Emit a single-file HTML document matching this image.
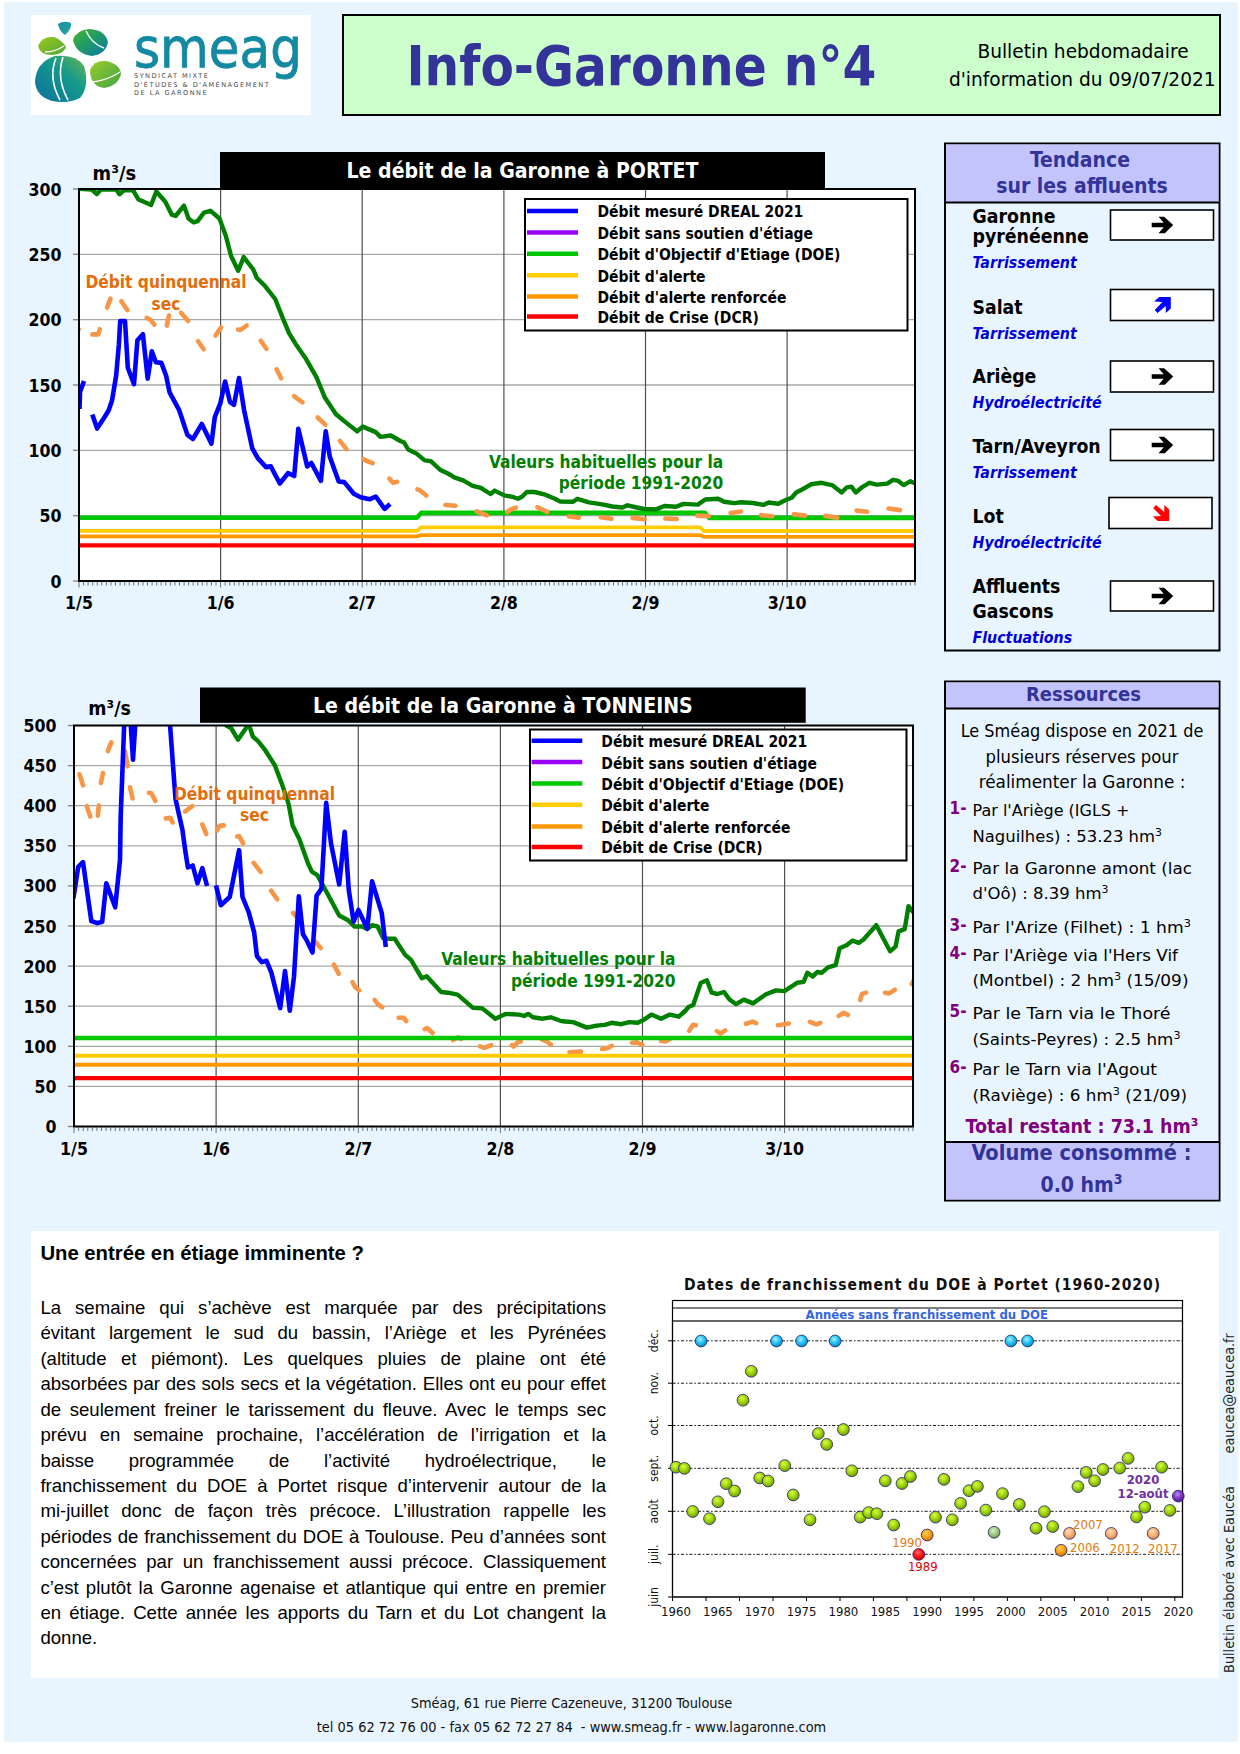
<!DOCTYPE html>
<html lang="fr"><head><meta charset="utf-8"><title>Info-Garonne n°4</title>
<style>
html,body{margin:0;padding:0;background:#fff;}
body{width:1240px;height:1754px;position:relative;overflow:hidden;}
#bg{position:absolute;left:4px;top:2px;width:1234px;height:1740px;background:#E9F5FE;}
#art{position:absolute;left:31px;top:1231px;width:1188px;height:447px;background:#fff;}
svg{position:absolute;left:0;top:0;}
.al,.at{position:absolute;left:40.4px;width:565.6px;height:25.41px;line-height:25.41px;font-family:'Liberation Sans',Arial,sans-serif;color:#000;white-space:nowrap;}
.al{font-size:18.6px;text-align:justify;text-align-last:justify;white-space:normal;}
.al.last{text-align-last:left;}
.at{font-size:20.3px;font-weight:bold;}
</style></head><body>
<div id="bg"></div>
<div id="art"></div>
<svg width="1240" height="1754" viewBox="0 0 1240 1754">
<rect x="31" y="15" width="280" height="100" fill="#fff"/><defs>
<linearGradient id="gA" x1="0" y1="0" x2="1" y2="1"><stop offset="0" stop-color="#9DC81A"/><stop offset="1" stop-color="#4FA83A"/></linearGradient>
<linearGradient id="gB" x1="0.1" y1="0.1" x2="0.9" y2="0.9"><stop offset="0" stop-color="#3DAE3A"/><stop offset="0.5" stop-color="#1E9A6A"/><stop offset="1" stop-color="#0E7CA4"/></linearGradient>
<linearGradient id="gC" x1="0" y1="1" x2="1" y2="0"><stop offset="0" stop-color="#0B6FA0"/><stop offset="0.6" stop-color="#139A8C"/><stop offset="1" stop-color="#6DB54A"/></linearGradient>
<linearGradient id="gD" x1="0" y1="0" x2="1" y2="1"><stop offset="0" stop-color="#9CCB2A"/><stop offset="1" stop-color="#3FA544"/></linearGradient>
<linearGradient id="gE" x1="0" y1="0" x2="1" y2="1"><stop offset="0" stop-color="#1A8FA8"/><stop offset="1" stop-color="#2AA59A"/></linearGradient>
</defs><path d="M58,24 Q64,20 71,23 Q72,29 65,35 Q59,31 58,24Z" fill="url(#gE)"/><path d="M38,46 Q42,36 54,37 Q62,40 66,47 Q64,54 52,55 Q40,55 38,46Z" fill="url(#gA)"/><path d="M73,40 Q76,30 90,29 Q105,30 108,42 Q106,54 92,56 Q76,54 73,40Z" fill="url(#gB)"/><path d="M35,82 Q36,62 55,56 Q76,54 84,66 Q90,86 80,98 Q68,104 52,101 Q36,96 35,82Z" fill="url(#gC)"/><path d="M90,70 Q94,60 106,61 Q120,64 121,74 Q118,86 104,88 Q90,86 90,70Z" fill="url(#gD)"/><path d="M56,58 Q48,78 60,100 M63,57 Q56,78 68,100" stroke="#fff" stroke-width="1.6" fill="none"/><path d="M86,31 Q92,44 104,48 M93,82 Q108,80 120,72 M45,52 Q55,52 64,46" stroke="#fff" stroke-width="1.4" fill="none"/><text x="134" y="67" font-family="'DejaVu Sans','Liberation Sans',sans-serif" font-size="55" font-weight="normal" fill="#1489A2" stroke="#1489A2" stroke-width="0.8" textLength="168" lengthAdjust="spacingAndGlyphs">smeag</text><text x="134" y="78.0" font-family="'DejaVu Sans','Liberation Sans',sans-serif" font-size="6.6" font-weight="normal" fill="#4A4A4A" text-anchor="start" letter-spacing="1.45" textLength="75.4" lengthAdjust="spacingAndGlyphs">SYNDICAT MIXTE</text>
<text x="134" y="86.6" font-family="'DejaVu Sans','Liberation Sans',sans-serif" font-size="6.6" font-weight="normal" fill="#4A4A4A" text-anchor="start" letter-spacing="1.45" textLength="136.2" lengthAdjust="spacingAndGlyphs">D&#39;ÉTUDES &amp; D&#39;AMÉNAGEMENT</text>
<text x="134" y="95.2" font-family="'DejaVu Sans','Liberation Sans',sans-serif" font-size="6.6" font-weight="normal" fill="#4A4A4A" text-anchor="start" letter-spacing="1.45" textLength="74.0" lengthAdjust="spacingAndGlyphs">DE LA GARONNE</text>
<rect x="343" y="15" width="877" height="100" fill="#CCFFCC" stroke="#000" stroke-width="2"/><text x="406.5" y="84.8" font-family="'DejaVu Sans Condensed','DejaVu Sans',sans-serif" font-size="56" font-weight="bold" fill="#333399" text-anchor="start" textLength="470" lengthAdjust="spacingAndGlyphs">Info-Garonne n°4</text>
<text x="1083" y="57.5" font-family="'DejaVu Sans','Liberation Sans',sans-serif" font-size="18.6" font-weight="normal" fill="#000" text-anchor="middle"  textLength="211.2" lengthAdjust="spacingAndGlyphs">Bulletin hebdomadaire</text>
<text x="1082.3" y="86" font-family="'DejaVu Sans','Liberation Sans',sans-serif" font-size="18.6" font-weight="normal" fill="#000" text-anchor="middle"  textLength="266.8" lengthAdjust="spacingAndGlyphs">d&#39;information du 09/07/2021</text>

<clipPath id="clip1"><rect x="79" y="189" width="836" height="392"/></clipPath>
<rect x="79" y="189" width="836" height="392" fill="#fff"/>
<line x1="79" x2="915" y1="515.7" y2="515.7" stroke="#A8A8A8" stroke-width="1.3"/>
<line x1="79" x2="915" y1="450.3" y2="450.3" stroke="#A8A8A8" stroke-width="1.3"/>
<line x1="79" x2="915" y1="385.0" y2="385.0" stroke="#A8A8A8" stroke-width="1.3"/>
<line x1="79" x2="915" y1="319.7" y2="319.7" stroke="#A8A8A8" stroke-width="1.3"/>
<line x1="79" x2="915" y1="254.3" y2="254.3" stroke="#A8A8A8" stroke-width="1.3"/>
<line x1="73" x2="79" y1="581.0" y2="581.0" stroke="#808080" stroke-width="1.3"/>
<text x="61.5" y="587.5" font-family="'DejaVu Sans Condensed','DejaVu Sans',sans-serif" font-size="17.6" font-weight="bold" fill="#000" text-anchor="end"  textLength="11.0" lengthAdjust="spacingAndGlyphs">0</text>

<line x1="73" x2="79" y1="515.7" y2="515.7" stroke="#808080" stroke-width="1.3"/>
<text x="61.5" y="522.2" font-family="'DejaVu Sans Condensed','DejaVu Sans',sans-serif" font-size="17.6" font-weight="bold" fill="#000" text-anchor="end"  textLength="22.0" lengthAdjust="spacingAndGlyphs">50</text>

<line x1="73" x2="79" y1="450.3" y2="450.3" stroke="#808080" stroke-width="1.3"/>
<text x="61.5" y="456.8" font-family="'DejaVu Sans Condensed','DejaVu Sans',sans-serif" font-size="17.6" font-weight="bold" fill="#000" text-anchor="end"  textLength="33.0" lengthAdjust="spacingAndGlyphs">100</text>

<line x1="73" x2="79" y1="385.0" y2="385.0" stroke="#808080" stroke-width="1.3"/>
<text x="61.5" y="391.5" font-family="'DejaVu Sans Condensed','DejaVu Sans',sans-serif" font-size="17.6" font-weight="bold" fill="#000" text-anchor="end"  textLength="33.0" lengthAdjust="spacingAndGlyphs">150</text>

<line x1="73" x2="79" y1="319.7" y2="319.7" stroke="#808080" stroke-width="1.3"/>
<text x="61.5" y="326.2" font-family="'DejaVu Sans Condensed','DejaVu Sans',sans-serif" font-size="17.6" font-weight="bold" fill="#000" text-anchor="end"  textLength="33.0" lengthAdjust="spacingAndGlyphs">200</text>

<line x1="73" x2="79" y1="254.3" y2="254.3" stroke="#808080" stroke-width="1.3"/>
<text x="61.5" y="260.8" font-family="'DejaVu Sans Condensed','DejaVu Sans',sans-serif" font-size="17.6" font-weight="bold" fill="#000" text-anchor="end"  textLength="33.0" lengthAdjust="spacingAndGlyphs">250</text>

<line x1="73" x2="79" y1="189.0" y2="189.0" stroke="#808080" stroke-width="1.3"/>
<text x="61.5" y="195.5" font-family="'DejaVu Sans Condensed','DejaVu Sans',sans-serif" font-size="17.6" font-weight="bold" fill="#000" text-anchor="end"  textLength="33.0" lengthAdjust="spacingAndGlyphs">300</text>

<text x="79.0" y="609.3" font-family="'DejaVu Sans Condensed','DejaVu Sans',sans-serif" font-size="17.6" font-weight="bold" fill="#000" text-anchor="middle"  textLength="27.8" lengthAdjust="spacingAndGlyphs">1/5</text>

<line x1="220.6" x2="220.6" y1="189" y2="581" stroke="#505050" stroke-width="1.2"/>
<text x="220.6" y="609.3" font-family="'DejaVu Sans Condensed','DejaVu Sans',sans-serif" font-size="17.6" font-weight="bold" fill="#000" text-anchor="middle"  textLength="27.8" lengthAdjust="spacingAndGlyphs">1/6</text>

<line x1="362.2" x2="362.2" y1="189" y2="581" stroke="#505050" stroke-width="1.2"/>
<text x="362.2" y="609.3" font-family="'DejaVu Sans Condensed','DejaVu Sans',sans-serif" font-size="17.6" font-weight="bold" fill="#000" text-anchor="middle"  textLength="27.8" lengthAdjust="spacingAndGlyphs">2/7</text>

<line x1="503.9" x2="503.9" y1="189" y2="581" stroke="#505050" stroke-width="1.2"/>
<text x="503.9" y="609.3" font-family="'DejaVu Sans Condensed','DejaVu Sans',sans-serif" font-size="17.6" font-weight="bold" fill="#000" text-anchor="middle"  textLength="27.8" lengthAdjust="spacingAndGlyphs">2/8</text>

<line x1="645.5" x2="645.5" y1="189" y2="581" stroke="#505050" stroke-width="1.2"/>
<text x="645.5" y="609.3" font-family="'DejaVu Sans Condensed','DejaVu Sans',sans-serif" font-size="17.6" font-weight="bold" fill="#000" text-anchor="middle"  textLength="27.8" lengthAdjust="spacingAndGlyphs">2/9</text>

<line x1="787.1" x2="787.1" y1="189" y2="581" stroke="#505050" stroke-width="1.2"/>
<text x="787.1" y="609.3" font-family="'DejaVu Sans Condensed','DejaVu Sans',sans-serif" font-size="17.6" font-weight="bold" fill="#000" text-anchor="middle"  textLength="38.8" lengthAdjust="spacingAndGlyphs">3/10</text>

<path d="M79.0 582v5.5M83.6 582v3.5M88.1 582v3.5M92.7 582v3.5M97.3 582v3.5M101.8 582v3.5M106.4 582v3.5M111.0 582v3.5M115.5 582v3.5M120.1 582v3.5M124.7 582v3.5M129.3 582v3.5M133.8 582v3.5M138.4 582v3.5M143.0 582v3.5M147.5 582v3.5M152.1 582v3.5M156.7 582v3.5M161.2 582v3.5M165.8 582v3.5M170.4 582v3.5M174.9 582v3.5M179.5 582v3.5M184.1 582v3.5M188.6 582v3.5M193.2 582v3.5M197.8 582v3.5M202.3 582v3.5M206.9 582v3.5M211.5 582v3.5M216.0 582v3.5M220.6 582v5.5M225.2 582v3.5M229.8 582v3.5M234.3 582v3.5M238.9 582v3.5M243.5 582v3.5M248.0 582v3.5M252.6 582v3.5M257.2 582v3.5M261.7 582v3.5M266.3 582v3.5M270.9 582v3.5M275.4 582v3.5M280.0 582v3.5M284.6 582v3.5M289.1 582v3.5M293.7 582v3.5M298.3 582v3.5M302.8 582v3.5M307.4 582v3.5M312.0 582v3.5M316.6 582v3.5M321.1 582v3.5M325.7 582v3.5M330.3 582v3.5M334.8 582v3.5M339.4 582v3.5M344.0 582v3.5M348.5 582v3.5M353.1 582v3.5M357.7 582v3.5M362.2 582v5.5M366.8 582v3.5M371.4 582v3.5M375.9 582v3.5M380.5 582v3.5M385.1 582v3.5M389.6 582v3.5M394.2 582v3.5M398.8 582v3.5M403.3 582v3.5M407.9 582v3.5M412.5 582v3.5M417.1 582v3.5M421.6 582v3.5M426.2 582v3.5M430.8 582v3.5M435.3 582v3.5M439.9 582v3.5M444.5 582v3.5M449.0 582v3.5M453.6 582v3.5M458.2 582v3.5M462.7 582v3.5M467.3 582v3.5M471.9 582v3.5M476.4 582v3.5M481.0 582v3.5M485.6 582v3.5M490.1 582v3.5M494.7 582v3.5M499.3 582v3.5M503.9 582v5.5M508.4 582v3.5M513.0 582v3.5M517.6 582v3.5M522.1 582v3.5M526.7 582v3.5M531.3 582v3.5M535.8 582v3.5M540.4 582v3.5M545.0 582v3.5M549.5 582v3.5M554.1 582v3.5M558.7 582v3.5M563.2 582v3.5M567.8 582v3.5M572.4 582v3.5M576.9 582v3.5M581.5 582v3.5M586.1 582v3.5M590.7 582v3.5M595.2 582v3.5M599.8 582v3.5M604.4 582v3.5M608.9 582v3.5M613.5 582v3.5M618.1 582v3.5M622.6 582v3.5M627.2 582v3.5M631.8 582v3.5M636.3 582v3.5M640.9 582v3.5M645.5 582v5.5M650.0 582v3.5M654.6 582v3.5M659.2 582v3.5M663.7 582v3.5M668.3 582v3.5M672.9 582v3.5M677.4 582v3.5M682.0 582v3.5M686.6 582v3.5M691.2 582v3.5M695.7 582v3.5M700.3 582v3.5M704.9 582v3.5M709.4 582v3.5M714.0 582v3.5M718.6 582v3.5M723.1 582v3.5M727.7 582v3.5M732.3 582v3.5M736.8 582v3.5M741.4 582v3.5M746.0 582v3.5M750.5 582v3.5M755.1 582v3.5M759.7 582v3.5M764.2 582v3.5M768.8 582v3.5M773.4 582v3.5M778.0 582v3.5M782.5 582v3.5M787.1 582v5.5M791.7 582v3.5M796.2 582v3.5M800.8 582v3.5M805.4 582v3.5M809.9 582v3.5M814.5 582v3.5M819.1 582v3.5M823.6 582v3.5M828.2 582v3.5M832.8 582v3.5M837.3 582v3.5M841.9 582v3.5M846.5 582v3.5M851.0 582v3.5M855.6 582v3.5M860.2 582v3.5M864.7 582v3.5M869.3 582v3.5M873.9 582v3.5M878.5 582v3.5M883.0 582v3.5M887.6 582v3.5M892.2 582v3.5M896.7 582v3.5M901.3 582v3.5M905.9 582v3.5M910.4 582v3.5M915.0 582v3.5" stroke="#707070" stroke-width="1"/>
<g clip-path="url(#clip1)" fill="none" stroke-linejoin="round">
<polyline points="79.0,517.8 416.8,517.8 421.3,512.9 705.0,512.9 709.0,517.9 915.0,517.9" stroke="#00C800" stroke-width="4.6"/>
<polyline points="79.0,530.9 416.8,530.9 421.3,527.3 700.0,527.3 704.0,531.0 915.0,531.0" stroke="#FFCC00" stroke-width="3.8"/>
<polyline points="79.0,536.4 416.8,536.4 421.3,535.1 700.0,535.1 704.0,536.8 915.0,536.8" stroke="#FF9900" stroke-width="3.8"/>
<polyline points="79.0,545.4 915.0,545.4" stroke="#FF0000" stroke-width="4.2"/>
<g stroke="#F79646" stroke-width="4.6" stroke-linecap="round"><polyline points="77.8,328.7 78.7,329.3"/><polyline points="92.4,334.4 98.2,334.4 99.8,329.2"/><polyline points="107.0,307.6 110.5,298.7"/><polyline points="121.3,301.3 127.4,310.1"/><polyline points="146.7,317.9 150.5,319.8 154.3,324.7"/><polyline points="166.8,325.6 169.0,315.5"/><polyline points="181.0,312.8 188.2,321.0"/><polyline points="198.1,341.2 203.7,349.2"/><polyline points="215.6,335.5 221.1,327.4"/><polyline points="238.1,329.6 240.5,330.0 246.7,325.5"/><polyline points="260.8,340.8 266.4,348.8"/><polyline points="276.6,369.3 281.1,378.3"/><polyline points="294.1,396.1 298.1,399.2 302.6,402.3"/><polyline points="317.6,417.5 325.3,424.6"/><polyline points="339.9,440.9 346.5,449.1"/><polyline points="363.6,459.2 366.8,461.0 372.7,463.2"/><polyline points="389.3,478.6 392.9,482.7 397.2,481.8"/><polyline points="417.4,489.4 420.5,490.7 426.3,495.5"/><polyline points="445.4,505.0 455.5,505.8"/><polyline points="476.5,511.4 486.9,515.4"/><polyline points="507.3,512.1 510.0,509.9 515.9,507.7"/><polyline points="537.4,507.2 547.2,511.9"/><polyline points="568.8,516.5 578.9,517.6"/><polyline points="600.7,517.3 611.5,518.8"/><polyline points="632.6,517.9 644.9,519.2"/><polyline points="665.3,518.5 676.8,519.0"/><polyline points="697.2,515.6 708.8,516.1"/><polyline points="730.6,513.0 741.0,511.5"/><polyline points="761.1,515.1 772.3,516.2"/><polyline points="793.9,514.4 805.2,515.6"/><polyline points="825.2,515.9 837.2,517.6"/><polyline points="856.6,510.6 867.1,511.7"/><polyline points="888.6,508.5 899.9,510.1"/></g>
<polyline points="78.9,188.9 91.8,189.5 96.9,194.0 100.8,189.5 116.3,189.5 119.5,194.3 124.0,190.2 133.0,190.2 138.2,199.2 151.1,205.0 156.3,191.5 165.3,201.8 171.8,214.7 175.6,216.0 184.0,205.6 188.5,218.5 193.7,222.4 197.6,221.1 204.0,212.7 210.5,210.8 219.5,218.5 226.0,236.6 231.1,256.0 238.2,270.8 243.7,257.1 253.3,269.5 256.7,277.7 264.3,285.2 275.2,299.0 282.8,318.1 289.0,333.2 295.8,344.2 305.4,357.9 316.4,377.1 325.0,397.8 336.0,414.3 344.2,421.1 357.2,431.4 362.7,426.6 375.7,432.1 380.5,436.9 390.8,435.5 400.4,441.0 404.1,442.6 408.2,449.5 416.5,453.6 424.7,460.4 430.8,461.1 440.4,470.0 448.0,473.5 454.8,477.6 463.1,480.3 472.7,485.8 480.9,487.9 490.5,494.0 494.6,490.6 504.2,495.4 512.4,496.8 517.9,498.8 522.0,496.8 526.8,492.0 534.4,492.0 545.3,494.7 554.9,498.8 560.4,501.6 573.1,501.7 577.4,498.8 589.0,502.4 603.5,504.6 612.3,506.5 622.4,507.5 627.5,505.3 636.9,507.5 644.2,509.0 655.8,509.4 664.5,506.0 676.1,506.8 683.4,503.9 697.9,504.6 705.2,499.5 718.2,498.8 724.0,501.7 734.2,503.1 741.0,502.2 752.9,503.0 763.3,504.9 768.6,502.5 778.3,503.7 785.7,500.0 791.7,497.7 796.2,492.5 802.1,489.5 811.1,484.3 821.5,482.8 832.0,485.1 841.7,492.5 846.9,487.3 851.4,486.6 855.8,492.5 861.8,487.3 869.3,482.8 876.7,484.6 887.2,483.6 893.1,479.8 897.6,480.6 903.6,485.1 910.3,481.3 915.5,483.6" stroke="#008000" stroke-width="4.4"/>
<polyline points="79.5,409.0 80.0,392.0 84.0,381.0" stroke="#0000FF" stroke-width="4.6"/>
<polyline points="92.3,414.5 97.1,428.6 104.8,416.8 108.7,410.3 112.0,400.6 116.1,376.0 118.9,344.4 120.2,321.1 125.0,321.1 127.8,367.7 134.0,384.2 137.4,340.3 142.9,334.2 147.7,378.7 151.8,351.3 155.9,362.3 161.4,362.9 166.2,376.0 169.6,392.4 179.2,410.2 187.4,434.9 192.9,439.0 201.8,424.0 211.4,443.8 214.8,417.1 220.3,403.4 225.1,381.5 230.0,402.0 234.0,404.8 239.0,378.0 244.1,410.2 252.3,448.5 257.8,458.1 266.0,467.1 270.8,466.4 279.8,483.5 288.0,473.2 294.2,476.0 298.3,428.7 307.2,466.4 311.3,462.9 320.9,480.8 325.7,431.4 329.8,456.8 338.7,481.5 344.2,482.1 353.8,493.8 360.6,497.2 369.6,499.3 375.7,496.5 384.6,508.9 390.1,504.1" stroke="#0000FF" stroke-width="4.6"/>
</g>
<rect x="79" y="189" width="836" height="392" fill="none" stroke="#000" stroke-width="2"/>
<rect x="220" y="152" width="605" height="36" fill="#000"/>
<text x="522.5" y="177.6" font-family="'DejaVu Sans Condensed','DejaVu Sans',sans-serif" font-size="21.1" font-weight="bold" fill="#fff" text-anchor="middle"  textLength="352.0" lengthAdjust="spacingAndGlyphs">Le débit de la Garonne à PORTET</text>

<text x="92.6" y="179.6" font-family="'DejaVu Sans Condensed','DejaVu Sans',sans-serif" font-size="20" font-weight="bold" fill="#000" text-anchor="start" textLength="43.5" lengthAdjust="spacingAndGlyphs">m³/s</text>

<rect x="525" y="199" width="382.5" height="131.5" fill="#fff" stroke="#000" stroke-width="2"/>
<line x1="527" x2="578" y1="211" y2="211" stroke="#0000FF" stroke-width="4.5"/>
<text x="597.4" y="217.4" font-family="'DejaVu Sans Condensed','DejaVu Sans',sans-serif" font-size="15.5" font-weight="bold" fill="#000" text-anchor="start"  textLength="205.9" lengthAdjust="spacingAndGlyphs">Débit mesuré DREAL 2021</text>

<line x1="527" x2="578" y1="232.4" y2="232.4" stroke="#9900FF" stroke-width="4.5"/>
<text x="597.4" y="238.8" font-family="'DejaVu Sans Condensed','DejaVu Sans',sans-serif" font-size="15.5" font-weight="bold" fill="#000" text-anchor="start"  textLength="215.6" lengthAdjust="spacingAndGlyphs">Débit sans soutien d&#39;étiage</text>

<line x1="527" x2="578" y1="253.7" y2="253.7" stroke="#00C800" stroke-width="4.5"/>
<text x="597.4" y="260.1" font-family="'DejaVu Sans Condensed','DejaVu Sans',sans-serif" font-size="15.5" font-weight="bold" fill="#000" text-anchor="start"  textLength="242.9" lengthAdjust="spacingAndGlyphs">Débit d&#39;Objectif d&#39;Etiage (DOE)</text>

<line x1="527" x2="578" y1="275.2" y2="275.2" stroke="#FFCC00" stroke-width="4.5"/>
<text x="597.4" y="281.6" font-family="'DejaVu Sans Condensed','DejaVu Sans',sans-serif" font-size="15.5" font-weight="bold" fill="#000" text-anchor="start"  textLength="108.2" lengthAdjust="spacingAndGlyphs">Débit d&#39;alerte</text>

<line x1="527" x2="578" y1="296.5" y2="296.5" stroke="#FF9900" stroke-width="4.5"/>
<text x="597.4" y="302.9" font-family="'DejaVu Sans Condensed','DejaVu Sans',sans-serif" font-size="15.5" font-weight="bold" fill="#000" text-anchor="start"  textLength="189.1" lengthAdjust="spacingAndGlyphs">Débit d&#39;alerte renforcée</text>

<line x1="527" x2="578" y1="316.6" y2="316.6" stroke="#FF0000" stroke-width="4.5"/>
<text x="597.4" y="323.0" font-family="'DejaVu Sans Condensed','DejaVu Sans',sans-serif" font-size="15.5" font-weight="bold" fill="#000" text-anchor="start"  textLength="161.4" lengthAdjust="spacingAndGlyphs">Débit de Crise (DCR)</text>

<text x="166" y="287.6" font-family="'DejaVu Sans Condensed','DejaVu Sans',sans-serif" font-size="17.2" font-weight="bold" fill="#E46C0A" text-anchor="middle"  textLength="161.2" lengthAdjust="spacingAndGlyphs">Débit quinquennal</text>

<text x="166" y="309.5" font-family="'DejaVu Sans Condensed','DejaVu Sans',sans-serif" font-size="17.2" font-weight="bold" fill="#E46C0A" text-anchor="middle"  textLength="28.9" lengthAdjust="spacingAndGlyphs">sec</text>

<text x="723.3" y="467.6" font-family="'DejaVu Sans Condensed','DejaVu Sans',sans-serif" font-size="17.2" font-weight="bold" fill="#008000" text-anchor="end"  textLength="234.3" lengthAdjust="spacingAndGlyphs">Valeurs habituelles pour la</text>

<text x="723.3" y="489.4" font-family="'DejaVu Sans Condensed','DejaVu Sans',sans-serif" font-size="17.2" font-weight="bold" fill="#008000" text-anchor="end"  textLength="164.5" lengthAdjust="spacingAndGlyphs">période 1991-2020</text>

<clipPath id="clip2"><rect x="74" y="725.5" width="839" height="401.0"/></clipPath>
<rect x="74" y="725.5" width="839" height="401.0" fill="#fff"/>
<line x1="74" x2="913" y1="1086.4" y2="1086.4" stroke="#A8A8A8" stroke-width="1.3"/>
<line x1="74" x2="913" y1="1046.3" y2="1046.3" stroke="#A8A8A8" stroke-width="1.3"/>
<line x1="74" x2="913" y1="1006.2" y2="1006.2" stroke="#A8A8A8" stroke-width="1.3"/>
<line x1="74" x2="913" y1="966.1" y2="966.1" stroke="#A8A8A8" stroke-width="1.3"/>
<line x1="74" x2="913" y1="926.0" y2="926.0" stroke="#A8A8A8" stroke-width="1.3"/>
<line x1="74" x2="913" y1="885.9" y2="885.9" stroke="#A8A8A8" stroke-width="1.3"/>
<line x1="74" x2="913" y1="845.8" y2="845.8" stroke="#A8A8A8" stroke-width="1.3"/>
<line x1="74" x2="913" y1="805.7" y2="805.7" stroke="#A8A8A8" stroke-width="1.3"/>
<line x1="74" x2="913" y1="765.6" y2="765.6" stroke="#A8A8A8" stroke-width="1.3"/>
<line x1="68" x2="74" y1="1126.5" y2="1126.5" stroke="#808080" stroke-width="1.3"/>
<text x="56.5" y="1133.0" font-family="'DejaVu Sans Condensed','DejaVu Sans',sans-serif" font-size="17.6" font-weight="bold" fill="#000" text-anchor="end"  textLength="11.0" lengthAdjust="spacingAndGlyphs">0</text>

<line x1="68" x2="74" y1="1086.4" y2="1086.4" stroke="#808080" stroke-width="1.3"/>
<text x="56.5" y="1092.9" font-family="'DejaVu Sans Condensed','DejaVu Sans',sans-serif" font-size="17.6" font-weight="bold" fill="#000" text-anchor="end"  textLength="22.0" lengthAdjust="spacingAndGlyphs">50</text>

<line x1="68" x2="74" y1="1046.3" y2="1046.3" stroke="#808080" stroke-width="1.3"/>
<text x="56.5" y="1052.8" font-family="'DejaVu Sans Condensed','DejaVu Sans',sans-serif" font-size="17.6" font-weight="bold" fill="#000" text-anchor="end"  textLength="33.0" lengthAdjust="spacingAndGlyphs">100</text>

<line x1="68" x2="74" y1="1006.2" y2="1006.2" stroke="#808080" stroke-width="1.3"/>
<text x="56.5" y="1012.7" font-family="'DejaVu Sans Condensed','DejaVu Sans',sans-serif" font-size="17.6" font-weight="bold" fill="#000" text-anchor="end"  textLength="33.0" lengthAdjust="spacingAndGlyphs">150</text>

<line x1="68" x2="74" y1="966.1" y2="966.1" stroke="#808080" stroke-width="1.3"/>
<text x="56.5" y="972.6" font-family="'DejaVu Sans Condensed','DejaVu Sans',sans-serif" font-size="17.6" font-weight="bold" fill="#000" text-anchor="end"  textLength="33.0" lengthAdjust="spacingAndGlyphs">200</text>

<line x1="68" x2="74" y1="926.0" y2="926.0" stroke="#808080" stroke-width="1.3"/>
<text x="56.5" y="932.5" font-family="'DejaVu Sans Condensed','DejaVu Sans',sans-serif" font-size="17.6" font-weight="bold" fill="#000" text-anchor="end"  textLength="33.0" lengthAdjust="spacingAndGlyphs">250</text>

<line x1="68" x2="74" y1="885.9" y2="885.9" stroke="#808080" stroke-width="1.3"/>
<text x="56.5" y="892.4" font-family="'DejaVu Sans Condensed','DejaVu Sans',sans-serif" font-size="17.6" font-weight="bold" fill="#000" text-anchor="end"  textLength="33.0" lengthAdjust="spacingAndGlyphs">300</text>

<line x1="68" x2="74" y1="845.8" y2="845.8" stroke="#808080" stroke-width="1.3"/>
<text x="56.5" y="852.3" font-family="'DejaVu Sans Condensed','DejaVu Sans',sans-serif" font-size="17.6" font-weight="bold" fill="#000" text-anchor="end"  textLength="33.0" lengthAdjust="spacingAndGlyphs">350</text>

<line x1="68" x2="74" y1="805.7" y2="805.7" stroke="#808080" stroke-width="1.3"/>
<text x="56.5" y="812.2" font-family="'DejaVu Sans Condensed','DejaVu Sans',sans-serif" font-size="17.6" font-weight="bold" fill="#000" text-anchor="end"  textLength="33.0" lengthAdjust="spacingAndGlyphs">400</text>

<line x1="68" x2="74" y1="765.6" y2="765.6" stroke="#808080" stroke-width="1.3"/>
<text x="56.5" y="772.1" font-family="'DejaVu Sans Condensed','DejaVu Sans',sans-serif" font-size="17.6" font-weight="bold" fill="#000" text-anchor="end"  textLength="33.0" lengthAdjust="spacingAndGlyphs">450</text>

<line x1="68" x2="74" y1="725.5" y2="725.5" stroke="#808080" stroke-width="1.3"/>
<text x="56.5" y="732.0" font-family="'DejaVu Sans Condensed','DejaVu Sans',sans-serif" font-size="17.6" font-weight="bold" fill="#000" text-anchor="end"  textLength="33.0" lengthAdjust="spacingAndGlyphs">500</text>

<text x="74.0" y="1154.8" font-family="'DejaVu Sans Condensed','DejaVu Sans',sans-serif" font-size="17.6" font-weight="bold" fill="#000" text-anchor="middle"  textLength="27.8" lengthAdjust="spacingAndGlyphs">1/5</text>

<line x1="216.1" x2="216.1" y1="725.5" y2="1126.5" stroke="#505050" stroke-width="1.2"/>
<text x="216.1" y="1154.8" font-family="'DejaVu Sans Condensed','DejaVu Sans',sans-serif" font-size="17.6" font-weight="bold" fill="#000" text-anchor="middle"  textLength="27.8" lengthAdjust="spacingAndGlyphs">1/6</text>

<line x1="358.3" x2="358.3" y1="725.5" y2="1126.5" stroke="#505050" stroke-width="1.2"/>
<text x="358.3" y="1154.8" font-family="'DejaVu Sans Condensed','DejaVu Sans',sans-serif" font-size="17.6" font-weight="bold" fill="#000" text-anchor="middle"  textLength="27.8" lengthAdjust="spacingAndGlyphs">2/7</text>

<line x1="500.4" x2="500.4" y1="725.5" y2="1126.5" stroke="#505050" stroke-width="1.2"/>
<text x="500.4" y="1154.8" font-family="'DejaVu Sans Condensed','DejaVu Sans',sans-serif" font-size="17.6" font-weight="bold" fill="#000" text-anchor="middle"  textLength="27.8" lengthAdjust="spacingAndGlyphs">2/8</text>

<line x1="642.5" x2="642.5" y1="725.5" y2="1126.5" stroke="#505050" stroke-width="1.2"/>
<text x="642.5" y="1154.8" font-family="'DejaVu Sans Condensed','DejaVu Sans',sans-serif" font-size="17.6" font-weight="bold" fill="#000" text-anchor="middle"  textLength="27.8" lengthAdjust="spacingAndGlyphs">2/9</text>

<line x1="784.6" x2="784.6" y1="725.5" y2="1126.5" stroke="#505050" stroke-width="1.2"/>
<text x="784.6" y="1154.8" font-family="'DejaVu Sans Condensed','DejaVu Sans',sans-serif" font-size="17.6" font-weight="bold" fill="#000" text-anchor="middle"  textLength="38.8" lengthAdjust="spacingAndGlyphs">3/10</text>

<path d="M74.0 1127.5v5.5M78.6 1127.5v3.5M83.2 1127.5v3.5M87.8 1127.5v3.5M92.3 1127.5v3.5M96.9 1127.5v3.5M101.5 1127.5v3.5M106.1 1127.5v3.5M110.7 1127.5v3.5M115.3 1127.5v3.5M119.8 1127.5v3.5M124.4 1127.5v3.5M129.0 1127.5v3.5M133.6 1127.5v3.5M138.2 1127.5v3.5M142.8 1127.5v3.5M147.4 1127.5v3.5M151.9 1127.5v3.5M156.5 1127.5v3.5M161.1 1127.5v3.5M165.7 1127.5v3.5M170.3 1127.5v3.5M174.9 1127.5v3.5M179.4 1127.5v3.5M184.0 1127.5v3.5M188.6 1127.5v3.5M193.2 1127.5v3.5M197.8 1127.5v3.5M202.4 1127.5v3.5M207.0 1127.5v3.5M211.5 1127.5v3.5M216.1 1127.5v5.5M220.7 1127.5v3.5M225.3 1127.5v3.5M229.9 1127.5v3.5M234.5 1127.5v3.5M239.0 1127.5v3.5M243.6 1127.5v3.5M248.2 1127.5v3.5M252.8 1127.5v3.5M257.4 1127.5v3.5M262.0 1127.5v3.5M266.6 1127.5v3.5M271.1 1127.5v3.5M275.7 1127.5v3.5M280.3 1127.5v3.5M284.9 1127.5v3.5M289.5 1127.5v3.5M294.1 1127.5v3.5M298.7 1127.5v3.5M303.2 1127.5v3.5M307.8 1127.5v3.5M312.4 1127.5v3.5M317.0 1127.5v3.5M321.6 1127.5v3.5M326.2 1127.5v3.5M330.7 1127.5v3.5M335.3 1127.5v3.5M339.9 1127.5v3.5M344.5 1127.5v3.5M349.1 1127.5v3.5M353.7 1127.5v3.5M358.3 1127.5v5.5M362.8 1127.5v3.5M367.4 1127.5v3.5M372.0 1127.5v3.5M376.6 1127.5v3.5M381.2 1127.5v3.5M385.8 1127.5v3.5M390.3 1127.5v3.5M394.9 1127.5v3.5M399.5 1127.5v3.5M404.1 1127.5v3.5M408.7 1127.5v3.5M413.3 1127.5v3.5M417.9 1127.5v3.5M422.4 1127.5v3.5M427.0 1127.5v3.5M431.6 1127.5v3.5M436.2 1127.5v3.5M440.8 1127.5v3.5M445.4 1127.5v3.5M449.9 1127.5v3.5M454.5 1127.5v3.5M459.1 1127.5v3.5M463.7 1127.5v3.5M468.3 1127.5v3.5M472.9 1127.5v3.5M477.5 1127.5v3.5M482.0 1127.5v3.5M486.6 1127.5v3.5M491.2 1127.5v3.5M495.8 1127.5v3.5M500.4 1127.5v5.5M505.0 1127.5v3.5M509.5 1127.5v3.5M514.1 1127.5v3.5M518.7 1127.5v3.5M523.3 1127.5v3.5M527.9 1127.5v3.5M532.5 1127.5v3.5M537.1 1127.5v3.5M541.6 1127.5v3.5M546.2 1127.5v3.5M550.8 1127.5v3.5M555.4 1127.5v3.5M560.0 1127.5v3.5M564.6 1127.5v3.5M569.1 1127.5v3.5M573.7 1127.5v3.5M578.3 1127.5v3.5M582.9 1127.5v3.5M587.5 1127.5v3.5M592.1 1127.5v3.5M596.7 1127.5v3.5M601.2 1127.5v3.5M605.8 1127.5v3.5M610.4 1127.5v3.5M615.0 1127.5v3.5M619.6 1127.5v3.5M624.2 1127.5v3.5M628.7 1127.5v3.5M633.3 1127.5v3.5M637.9 1127.5v3.5M642.5 1127.5v5.5M647.1 1127.5v3.5M651.7 1127.5v3.5M656.3 1127.5v3.5M660.8 1127.5v3.5M665.4 1127.5v3.5M670.0 1127.5v3.5M674.6 1127.5v3.5M679.2 1127.5v3.5M683.8 1127.5v3.5M688.3 1127.5v3.5M692.9 1127.5v3.5M697.5 1127.5v3.5M702.1 1127.5v3.5M706.7 1127.5v3.5M711.3 1127.5v3.5M715.9 1127.5v3.5M720.4 1127.5v3.5M725.0 1127.5v3.5M729.6 1127.5v3.5M734.2 1127.5v3.5M738.8 1127.5v3.5M743.4 1127.5v3.5M748.0 1127.5v3.5M752.5 1127.5v3.5M757.1 1127.5v3.5M761.7 1127.5v3.5M766.3 1127.5v3.5M770.9 1127.5v3.5M775.5 1127.5v3.5M780.0 1127.5v3.5M784.6 1127.5v5.5M789.2 1127.5v3.5M793.8 1127.5v3.5M798.4 1127.5v3.5M803.0 1127.5v3.5M807.6 1127.5v3.5M812.1 1127.5v3.5M816.7 1127.5v3.5M821.3 1127.5v3.5M825.9 1127.5v3.5M830.5 1127.5v3.5M835.1 1127.5v3.5M839.6 1127.5v3.5M844.2 1127.5v3.5M848.8 1127.5v3.5M853.4 1127.5v3.5M858.0 1127.5v3.5M862.6 1127.5v3.5M867.2 1127.5v3.5M871.7 1127.5v3.5M876.3 1127.5v3.5M880.9 1127.5v3.5M885.5 1127.5v3.5M890.1 1127.5v3.5M894.7 1127.5v3.5M899.2 1127.5v3.5M903.8 1127.5v3.5M908.4 1127.5v3.5M913.0 1127.5v3.5" stroke="#707070" stroke-width="1"/>
<g clip-path="url(#clip2)" fill="none" stroke-linejoin="round">
<g stroke="#F79646" stroke-width="4.6" stroke-linecap="round"><polyline points="71.1,768.9 72.7,771.6"/><polyline points="79.4,774.3 83.1,785.3"/><polyline points="86.7,806.2 90.3,816.5"/><polyline points="97.8,815.7 98.8,805.6"/><polyline points="100.9,783.0 103.0,772.9"/><polyline points="107.8,751.2 111.3,742.3"/><polyline points="124.9,751.2 127.7,766.3"/><polyline points="130.0,787.3 132.6,798.4"/><polyline points="148.9,792.8 151.3,793.2 155.4,800.8"/><polyline points="165.8,818.4 170.2,817.9 172.7,822.5"/><polyline points="185.0,811.5 192.3,806.1"/><polyline points="202.3,824.3 206.3,834.0"/><polyline points="217.0,830.5 219.5,825.9 223.8,825.4"/><polyline points="237.1,836.5 239.1,836.0 243.2,843.6"/><polyline points="253.7,862.9 260.6,871.8"/><polyline points="271.1,890.6 277.2,899.3"/><polyline points="293.1,912.9 298.5,918.9"/><polyline points="315.5,942.0 320.7,948.1"/><polyline points="333.8,964.6 338.8,973.8"/><polyline points="352.5,982.1 355.2,987.3 359.2,990.4"/><polyline points="374.6,999.9 378.4,1004.8 382.3,1007.2"/><polyline points="398.7,1017.8 403.8,1017.8 406.1,1021.1"/><polyline points="424.6,1029.2 427.0,1028.0 432.7,1033.0"/><polyline points="453.0,1040.0 458.2,1037.4 460.8,1039.1"/><polyline points="480.1,1046.4 484.5,1047.9 491.2,1045.1"/><polyline points="511.9,1045.2 513.5,1046.5 517.9,1042.1 520.8,1041.5"/><polyline points="541.7,1039.3 546.9,1041.4 551.0,1044.8"/><polyline points="569.5,1052.4 581.0,1051.6"/><polyline points="602.1,1049.0 607.9,1047.9 611.8,1045.8"/><polyline points="631.9,1042.7 636.9,1042.4 642.4,1045.0"/><polyline points="661.1,1041.0 665.4,1041.5 670.0,1039.0"/><polyline points="689.1,1030.9 693.0,1024.8 695.9,1025.3"/><polyline points="716.7,1031.1 720.6,1033.5 725.3,1030.4"/><polyline points="745.9,1023.8 752.5,1021.6 756.3,1023.2"/><polyline points="777.9,1025.3 781.5,1024.8 788.8,1023.5"/><polyline points="809.8,1021.8 816.5,1024.4 820.3,1022.8"/><polyline points="838.7,1015.9 843.6,1012.8 847.9,1014.8"/><polyline points="860.1,1000.0 862.0,993.9 866.1,992.6"/><polyline points="885.0,992.7 889.1,993.4 894.9,989.8"/><polyline points="911.8,984.1 914.2,979.4 915.2,977.0"/></g>
<polyline points="74.0,1038.0 913.0,1038.0" stroke="#00C800" stroke-width="4.6"/>
<polyline points="74.0,1055.8 913.0,1055.8" stroke="#FFCC00" stroke-width="4.0"/>
<polyline points="74.0,1064.7 913.0,1064.7" stroke="#FF9900" stroke-width="4.0"/>
<polyline points="74.0,1078.2 913.0,1078.2" stroke="#FF0000" stroke-width="4.2"/>
<polyline points="222.0,690.0 226.3,725.5 231.0,728.0 238.0,739.7 247.3,726.2 250.1,728.2 252.8,736.5 257.6,740.6 265.2,750.2 274.8,765.2 281.6,783.1 288.5,803.6 292.6,825.6 299.4,839.3 307.7,862.6 311.8,871.7 317.3,875.1 324.8,888.8 339.2,915.5 348.1,920.3 354.3,926.5 362.5,926.5 367.3,929.2 372.1,925.1 377.6,926.5 383.1,938.1 388.6,938.8 394.7,938.8 405.0,954.6 411.0,959.8 421.9,978.3 426.7,976.2 441.1,992.0 448.0,992.7 457.6,994.7 472.7,1007.7 482.3,1008.4 495.3,1018.7 505.6,1013.9 519.3,1014.6 524.1,1016.0 528.2,1013.9 533.0,1017.3 542.6,1018.7 550.8,1017.3 560.4,1020.8 565.0,1021.5 573.2,1022.1 586.9,1027.6 596.5,1025.6 604.8,1024.9 611.6,1022.8 621.2,1024.2 629.4,1022.1 637.7,1022.8 643.1,1020.1 651.4,1014.6 661.0,1018.7 669.9,1014.6 678.8,1016.7 685.6,1010.5 688.4,1007.1 693.2,1005.0 700.7,983.1 706.9,980.3 711.7,992.7 717.2,994.0 724.0,992.0 729.5,999.5 736.1,1004.2 743.8,999.6 753.0,1003.4 766.0,994.2 776.0,990.4 784.4,991.1 797.4,982.7 803.6,981.9 807.4,972.7 812.7,976.6 817.3,972.0 821.9,972.7 828.1,967.4 835.7,965.1 839.6,948.2 846.5,945.2 852.6,940.6 858.7,942.9 863.3,939.8 876.3,925.2 890.1,951.3 895.5,946.7 898.6,931.4 904.7,929.1 908.5,906.1 913.9,913.0" stroke="#008000" stroke-width="4.4"/>
<polyline points="73.4,898.4 78.2,866.9 83.0,862.1 91.3,921.0 97.4,923.1 102.2,921.7 106.3,883.3 115.2,907.3 120.0,860.0 120.7,816.0 125.5,690.0 128.5,690.0 133.0,759.8 137.5,690.0 167.5,690.0 174.2,781.7 175.6,799.5 182.4,829.7 185.2,850.2 187.9,867.5 192.7,865.5 197.5,883.3 202.3,868.2 207.1,886.0" stroke="#0000FF" stroke-width="4.6"/>
<polyline points="216.0,885.4 220.8,905.2 229.7,897.0 239.1,850.2 242.5,897.0 248.7,912.1 254.2,932.7 256.9,956.0 261.7,962.1 266.5,960.8 271.3,972.4 280.2,1008.1 285.0,971.0 289.8,1010.8 294.0,976.5 298.8,896.3 302.9,934.0 307.0,940.9 312.5,952.5 316.6,895.6 321.4,888.8 326.2,802.9 331.0,843.4 339.2,884.5 344.7,831.7 348.8,890.2 353.6,921.7 358.4,910.0 367.3,928.5 372.1,881.3 381.7,912.8 385.8,947.1" stroke="#0000FF" stroke-width="4.6"/>
</g>
<rect x="74" y="725.5" width="839" height="401.0" fill="none" stroke="#000" stroke-width="2"/>
<rect x="200" y="687.5" width="605.7" height="35.299999999999955" fill="#000"/>
<text x="502.85" y="712.6" font-family="'DejaVu Sans Condensed','DejaVu Sans',sans-serif" font-size="21.1" font-weight="bold" fill="#fff" text-anchor="middle"  textLength="379.9" lengthAdjust="spacingAndGlyphs">Le débit de la Garonne à TONNEINS</text>

<text x="88.3" y="714.5" font-family="'DejaVu Sans Condensed','DejaVu Sans',sans-serif" font-size="20" font-weight="bold" fill="#000" text-anchor="start" textLength="42.6" lengthAdjust="spacingAndGlyphs">m³/s</text>

<rect x="530" y="729.5" width="376.5" height="131.0" fill="#fff" stroke="#000" stroke-width="2"/>
<line x1="531.6" x2="582.3" y1="740.8" y2="740.8" stroke="#0000FF" stroke-width="4.5"/>
<text x="601.3" y="747.2" font-family="'DejaVu Sans Condensed','DejaVu Sans',sans-serif" font-size="15.5" font-weight="bold" fill="#000" text-anchor="start"  textLength="205.9" lengthAdjust="spacingAndGlyphs">Débit mesuré DREAL 2021</text>

<line x1="531.6" x2="582.3" y1="762.1" y2="762.1" stroke="#9900FF" stroke-width="4.5"/>
<text x="601.3" y="768.5" font-family="'DejaVu Sans Condensed','DejaVu Sans',sans-serif" font-size="15.5" font-weight="bold" fill="#000" text-anchor="start"  textLength="215.6" lengthAdjust="spacingAndGlyphs">Débit sans soutien d&#39;étiage</text>

<line x1="531.6" x2="582.3" y1="783.4" y2="783.4" stroke="#00C800" stroke-width="4.5"/>
<text x="601.3" y="789.8" font-family="'DejaVu Sans Condensed','DejaVu Sans',sans-serif" font-size="15.5" font-weight="bold" fill="#000" text-anchor="start"  textLength="242.9" lengthAdjust="spacingAndGlyphs">Débit d&#39;Objectif d&#39;Etiage (DOE)</text>

<line x1="531.6" x2="582.3" y1="804.7" y2="804.7" stroke="#FFCC00" stroke-width="4.5"/>
<text x="601.3" y="811.1" font-family="'DejaVu Sans Condensed','DejaVu Sans',sans-serif" font-size="15.5" font-weight="bold" fill="#000" text-anchor="start"  textLength="108.2" lengthAdjust="spacingAndGlyphs">Débit d&#39;alerte</text>

<line x1="531.6" x2="582.3" y1="826.4" y2="826.4" stroke="#FF9900" stroke-width="4.5"/>
<text x="601.3" y="832.8" font-family="'DejaVu Sans Condensed','DejaVu Sans',sans-serif" font-size="15.5" font-weight="bold" fill="#000" text-anchor="start"  textLength="189.1" lengthAdjust="spacingAndGlyphs">Débit d&#39;alerte renforcée</text>

<line x1="531.6" x2="582.3" y1="846.9" y2="846.9" stroke="#FF0000" stroke-width="4.5"/>
<text x="601.3" y="853.3" font-family="'DejaVu Sans Condensed','DejaVu Sans',sans-serif" font-size="15.5" font-weight="bold" fill="#000" text-anchor="start"  textLength="161.4" lengthAdjust="spacingAndGlyphs">Débit de Crise (DCR)</text>

<text x="254.5" y="799.7" font-family="'DejaVu Sans Condensed','DejaVu Sans',sans-serif" font-size="17.2" font-weight="bold" fill="#E46C0A" text-anchor="middle"  textLength="161.2" lengthAdjust="spacingAndGlyphs">Débit quinquennal</text>

<text x="254.5" y="821" font-family="'DejaVu Sans Condensed','DejaVu Sans',sans-serif" font-size="17.2" font-weight="bold" fill="#E46C0A" text-anchor="middle"  textLength="28.9" lengthAdjust="spacingAndGlyphs">sec</text>

<text x="675.5" y="964.6" font-family="'DejaVu Sans Condensed','DejaVu Sans',sans-serif" font-size="17.2" font-weight="bold" fill="#008000" text-anchor="end"  textLength="234.3" lengthAdjust="spacingAndGlyphs">Valeurs habituelles pour la</text>

<text x="675.5" y="986.5" font-family="'DejaVu Sans Condensed','DejaVu Sans',sans-serif" font-size="17.2" font-weight="bold" fill="#008000" text-anchor="end"  textLength="164.5" lengthAdjust="spacingAndGlyphs">période 1991-2020</text>

<rect x="945" y="143.5" width="274.5" height="507" fill="none" stroke="#000" stroke-width="2"/><rect x="946" y="144.5" width="272.5" height="57.5" fill="#C4C4FC"/><line x1="945" x2="1219.5" y1="202.5" y2="202.5" stroke="#000" stroke-width="2"/><text x="1080" y="167" font-family="'DejaVu Sans Condensed','DejaVu Sans',sans-serif" font-size="21" font-weight="bold" fill="#333399" text-anchor="middle"  textLength="100.1" lengthAdjust="spacingAndGlyphs">Tendance</text>
<text x="1082" y="193.4" font-family="'DejaVu Sans Condensed','DejaVu Sans',sans-serif" font-size="21" font-weight="bold" fill="#333399" text-anchor="middle"  textLength="171.6" lengthAdjust="spacingAndGlyphs">sur les affluents</text>
<text x="972.5" y="223" font-family="'DejaVu Sans Condensed','DejaVu Sans',sans-serif" font-size="19.3" font-weight="bold" fill="#000" text-anchor="start"  textLength="82.9" lengthAdjust="spacingAndGlyphs">Garonne</text>
<text x="972.5" y="243" font-family="'DejaVu Sans Condensed','DejaVu Sans',sans-serif" font-size="19.3" font-weight="bold" fill="#000" text-anchor="start"  textLength="116.4" lengthAdjust="spacingAndGlyphs">pyrénéenne</text>
<text x="972.5" y="268" font-family="'DejaVu Sans Condensed','DejaVu Sans',sans-serif" font-size="15.8" font-weight="bold" fill="#0000DD" text-anchor="start" font-style="italic"  textLength="104.2" lengthAdjust="spacingAndGlyphs">Tarrissement</text>
<rect x="1110.5" y="210" width="103.0" height="30" fill="#fff" stroke="#000" stroke-width="1.6"/><polygon points="1151.7,222.7 1163.7,222.7 1158.6,216.7 1164.1,216.7 1173.2,225.0 1164.8,233.3 1158.5,233.3 1163.7,227.3 1151.7,227.3" fill="#000"/><text x="972.5" y="313.75" font-family="'DejaVu Sans Condensed','DejaVu Sans',sans-serif" font-size="19.3" font-weight="bold" fill="#000" text-anchor="start"  textLength="50.1" lengthAdjust="spacingAndGlyphs">Salat</text>
<text x="972.5" y="338.75" font-family="'DejaVu Sans Condensed','DejaVu Sans',sans-serif" font-size="15.8" font-weight="bold" fill="#0000DD" text-anchor="start" font-style="italic"  textLength="104.2" lengthAdjust="spacingAndGlyphs">Tarrissement</text>
<rect x="1110.5" y="289.5" width="103.0" height="31.0" fill="#fff" stroke="#000" stroke-width="1.6"/><polygon points="1159.2,297.1 1170.8,297.1 1170.8,308.6 1165.8,312.9 1165.8,305.9 1157.5,312.9 1154.7,309.9 1162.5,302.1 1154.2,301.6" fill="#0000FF"/><text x="972.5" y="383" font-family="'DejaVu Sans Condensed','DejaVu Sans',sans-serif" font-size="19.3" font-weight="bold" fill="#000" text-anchor="start"  textLength="63.9" lengthAdjust="spacingAndGlyphs">Ariège</text>
<text x="972.5" y="408" font-family="'DejaVu Sans Condensed','DejaVu Sans',sans-serif" font-size="15.8" font-weight="bold" fill="#0000DD" text-anchor="start" font-style="italic"  textLength="129.1" lengthAdjust="spacingAndGlyphs">Hydroélectricité</text>
<rect x="1110.5" y="361" width="103.0" height="31" fill="#fff" stroke="#000" stroke-width="1.6"/><polygon points="1151.7,374.2 1163.7,374.2 1158.6,368.2 1164.1,368.2 1173.2,376.5 1164.8,384.8 1158.5,384.8 1163.7,378.8 1151.7,378.8" fill="#000"/><text x="972.5" y="452.5" font-family="'DejaVu Sans Condensed','DejaVu Sans',sans-serif" font-size="19.3" font-weight="bold" fill="#000" text-anchor="start"  textLength="128.2" lengthAdjust="spacingAndGlyphs">Tarn/Aveyron</text>
<text x="972.5" y="477.5" font-family="'DejaVu Sans Condensed','DejaVu Sans',sans-serif" font-size="15.8" font-weight="bold" fill="#0000DD" text-anchor="start" font-style="italic"  textLength="104.2" lengthAdjust="spacingAndGlyphs">Tarrissement</text>
<rect x="1110.5" y="429.5" width="103.0" height="31.0" fill="#fff" stroke="#000" stroke-width="1.6"/><polygon points="1151.7,442.7 1163.7,442.7 1158.6,436.7 1164.1,436.7 1173.2,445.0 1164.8,453.3 1158.5,453.3 1163.7,447.3 1151.7,447.3" fill="#000"/><text x="972.5" y="522.5" font-family="'DejaVu Sans Condensed','DejaVu Sans',sans-serif" font-size="19.3" font-weight="bold" fill="#000" text-anchor="start"  textLength="31.3" lengthAdjust="spacingAndGlyphs">Lot</text>
<text x="972.5" y="547.5" font-family="'DejaVu Sans Condensed','DejaVu Sans',sans-serif" font-size="15.8" font-weight="bold" fill="#0000DD" text-anchor="start" font-style="italic"  textLength="129.1" lengthAdjust="spacingAndGlyphs">Hydroélectricité</text>
<rect x="1109" y="497.5" width="103" height="31.0" fill="#fff" stroke="#000" stroke-width="1.6"/><polygon points="1157.7,520.9 1169.2,520.9 1169.2,509.4 1164.3,505.1 1164.3,512.0 1156.0,505.1 1153.2,508.1 1161.0,516.0 1152.8,516.4" fill="#FF0000"/><text x="972.5" y="592.5" font-family="'DejaVu Sans Condensed','DejaVu Sans',sans-serif" font-size="19.3" font-weight="bold" fill="#000" text-anchor="start"  textLength="87.9" lengthAdjust="spacingAndGlyphs">Affluents</text>
<text x="972.5" y="617.5" font-family="'DejaVu Sans Condensed','DejaVu Sans',sans-serif" font-size="19.3" font-weight="bold" fill="#000" text-anchor="start"  textLength="81.2" lengthAdjust="spacingAndGlyphs">Gascons</text>
<text x="972.5" y="642.5" font-family="'DejaVu Sans Condensed','DejaVu Sans',sans-serif" font-size="15.8" font-weight="bold" fill="#0000DD" text-anchor="start" font-style="italic"  textLength="99.6" lengthAdjust="spacingAndGlyphs">Fluctuations</text>
<rect x="1110.5" y="581" width="103.0" height="30" fill="#fff" stroke="#000" stroke-width="1.6"/><polygon points="1151.7,593.7 1163.7,593.7 1158.6,587.7 1164.1,587.7 1173.2,596.0 1164.8,604.3 1158.5,604.3 1163.7,598.3 1151.7,598.3" fill="#000"/><rect x="945" y="681.5" width="274.5" height="519" fill="none" stroke="#000" stroke-width="2"/><rect x="946" y="682.5" width="272.5" height="25.5" fill="#C4C4FC"/><line x1="945" x2="1219.5" y1="708.5" y2="708.5" stroke="#000" stroke-width="2"/><text x="1083.5" y="701.3" font-family="'DejaVu Sans Condensed','DejaVu Sans',sans-serif" font-size="20" font-weight="bold" fill="#333399" text-anchor="middle"  textLength="115.1" lengthAdjust="spacingAndGlyphs">Ressources</text>
<rect x="946" y="1142" width="272.5" height="57.5" fill="#C4C4FC"/><line x1="945" x2="1219.5" y1="1142" y2="1142" stroke="#000" stroke-width="2"/><text x="1082" y="737" font-family="'DejaVu Sans','Liberation Sans',sans-serif" font-size="16.8" font-weight="normal" fill="#000" text-anchor="middle" textLength="242.7" lengthAdjust="spacingAndGlyphs">Le Sméag dispose en 2021 de</text>
<text x="1082" y="763" font-family="'DejaVu Sans','Liberation Sans',sans-serif" font-size="16.8" font-weight="normal" fill="#000" text-anchor="middle" textLength="193" lengthAdjust="spacingAndGlyphs">plusieurs réserves pour</text>
<text x="1082" y="787.5" font-family="'DejaVu Sans','Liberation Sans',sans-serif" font-size="16.8" font-weight="normal" fill="#000" text-anchor="middle" textLength="206.7" lengthAdjust="spacingAndGlyphs">réalimenter la Garonne :</text>
<text x="949.5" y="814" font-family="'DejaVu Sans Condensed','DejaVu Sans',sans-serif" font-size="17" font-weight="bold" fill="#800080" text-anchor="start"  textLength="17.0" lengthAdjust="spacingAndGlyphs">1-</text>
<text x="972.5" y="816" font-family="'DejaVu Sans','Liberation Sans',sans-serif" font-size="16.6" font-weight="normal" fill="#000" text-anchor="start" textLength="157" lengthAdjust="spacingAndGlyphs">Par l&#39;Ariège (IGLS +</text>
<text x="972.5" y="842" font-family="'DejaVu Sans','Liberation Sans',sans-serif" font-size="16.6" font-weight="normal" fill="#000" text-anchor="start" textLength="189.5" lengthAdjust="spacingAndGlyphs">Naguilhes) : 53.23 hm<tspan font-size='11' dy='-6'>3</tspan></text>
<text x="949.5" y="871.75" font-family="'DejaVu Sans Condensed','DejaVu Sans',sans-serif" font-size="17" font-weight="bold" fill="#800080" text-anchor="start"  textLength="17.0" lengthAdjust="spacingAndGlyphs">2-</text>
<text x="972.5" y="873.75" font-family="'DejaVu Sans','Liberation Sans',sans-serif" font-size="16.6" font-weight="normal" fill="#000" text-anchor="start" textLength="219.5" lengthAdjust="spacingAndGlyphs">Par la Garonne amont (lac</text>
<text x="972.5" y="898.75" font-family="'DejaVu Sans','Liberation Sans',sans-serif" font-size="16.6" font-weight="normal" fill="#000" text-anchor="start" textLength="136" lengthAdjust="spacingAndGlyphs">d&#39;Oô) : 8.39 hm<tspan font-size='11' dy='-6'>3</tspan></text>
<text x="949.5" y="930.5" font-family="'DejaVu Sans Condensed','DejaVu Sans',sans-serif" font-size="17" font-weight="bold" fill="#800080" text-anchor="start"  textLength="17.0" lengthAdjust="spacingAndGlyphs">3-</text>
<text x="972.5" y="932.5" font-family="'DejaVu Sans','Liberation Sans',sans-serif" font-size="16.6" font-weight="normal" fill="#000" text-anchor="start" textLength="218.5" lengthAdjust="spacingAndGlyphs">Par l&#39;Arize (Filhet) : 1 hm<tspan font-size='11' dy='-6'>3</tspan></text>
<text x="949.5" y="958.5" font-family="'DejaVu Sans Condensed','DejaVu Sans',sans-serif" font-size="17" font-weight="bold" fill="#800080" text-anchor="start"  textLength="17.0" lengthAdjust="spacingAndGlyphs">4-</text>
<text x="972.5" y="960.5" font-family="'DejaVu Sans','Liberation Sans',sans-serif" font-size="16.6" font-weight="normal" fill="#000" text-anchor="start" textLength="205.5" lengthAdjust="spacingAndGlyphs">Par l&#39;Ariège via l&#39;Hers Vif</text>
<text x="972.5" y="985.5" font-family="'DejaVu Sans','Liberation Sans',sans-serif" font-size="16.6" font-weight="normal" fill="#000" text-anchor="start" textLength="216" lengthAdjust="spacingAndGlyphs">(Montbel) : 2 hm<tspan font-size='11' dy='-6'>3</tspan><tspan dy='6'> (15/09)</tspan></text>
<text x="949.5" y="1016.75" font-family="'DejaVu Sans Condensed','DejaVu Sans',sans-serif" font-size="17" font-weight="bold" fill="#800080" text-anchor="start"  textLength="17.0" lengthAdjust="spacingAndGlyphs">5-</text>
<text x="972.5" y="1018.75" font-family="'DejaVu Sans','Liberation Sans',sans-serif" font-size="16.6" font-weight="normal" fill="#000" text-anchor="start" textLength="198" lengthAdjust="spacingAndGlyphs">Par le Tarn via le Thoré</text>
<text x="972.5" y="1045" font-family="'DejaVu Sans','Liberation Sans',sans-serif" font-size="16.6" font-weight="normal" fill="#000" text-anchor="start" textLength="208" lengthAdjust="spacingAndGlyphs">(Saints-Peyres) : 2.5 hm<tspan font-size='11' dy='-6'>3</tspan></text>
<text x="949.5" y="1072.5" font-family="'DejaVu Sans Condensed','DejaVu Sans',sans-serif" font-size="17" font-weight="bold" fill="#800080" text-anchor="start"  textLength="17.0" lengthAdjust="spacingAndGlyphs">6-</text>
<text x="972.5" y="1074.5" font-family="'DejaVu Sans','Liberation Sans',sans-serif" font-size="16.6" font-weight="normal" fill="#000" text-anchor="start" textLength="184.5" lengthAdjust="spacingAndGlyphs">Par le Tarn via l&#39;Agout</text>
<text x="972.5" y="1100.5" font-family="'DejaVu Sans','Liberation Sans',sans-serif" font-size="16.6" font-weight="normal" fill="#000" text-anchor="start" textLength="214.5" lengthAdjust="spacingAndGlyphs">(Raviège) : 6 hm<tspan font-size='11' dy='-6'>3</tspan><tspan dy='6'> (21/09)</tspan></text>
<text x="1082" y="1133" font-family="'DejaVu Sans Condensed','DejaVu Sans',sans-serif" font-size="19.6" font-weight="bold" fill="#800080" text-anchor="middle" textLength="233" lengthAdjust="spacingAndGlyphs">Total restant : 73.1 hm³</text>
<text x="1081.5" y="1160" font-family="'DejaVu Sans Condensed','DejaVu Sans',sans-serif" font-size="21" font-weight="bold" fill="#333399" text-anchor="middle" textLength="220" lengthAdjust="spacingAndGlyphs">Volume consommé  :</text>
<text x="1081.5" y="1192" font-family="'DejaVu Sans Condensed','DejaVu Sans',sans-serif" font-size="21" font-weight="bold" fill="#333399" text-anchor="middle"  textLength="82.0" lengthAdjust="spacingAndGlyphs">0.0 hm<tspan font-size='14' dy='-8'>3</tspan></text>

<defs><radialGradient id="dgg" cx="0.42" cy="0.35" r="0.65"><stop offset="0" stop-color="#D8FF40"/><stop offset="0.55" stop-color="#9CD20A"/><stop offset="1" stop-color="#6E9E00"/></radialGradient><radialGradient id="dgb" cx="0.42" cy="0.35" r="0.65"><stop offset="0" stop-color="#A8F0FF"/><stop offset="0.55" stop-color="#20C0F0"/><stop offset="1" stop-color="#0A8AC8"/></radialGradient><radialGradient id="dgr" cx="0.42" cy="0.35" r="0.65"><stop offset="0" stop-color="#FF7070"/><stop offset="0.55" stop-color="#FF1010"/><stop offset="1" stop-color="#C00000"/></radialGradient><radialGradient id="dgo" cx="0.42" cy="0.35" r="0.65"><stop offset="0" stop-color="#FFD060"/><stop offset="0.55" stop-color="#FFA010"/><stop offset="1" stop-color="#D07000"/></radialGradient><radialGradient id="dgl" cx="0.42" cy="0.35" r="0.65"><stop offset="0" stop-color="#FFE0C0"/><stop offset="0.55" stop-color="#F8B070"/><stop offset="1" stop-color="#D88A50"/></radialGradient><radialGradient id="dgp" cx="0.42" cy="0.35" r="0.65"><stop offset="0" stop-color="#B890F0"/><stop offset="0.55" stop-color="#7A36C0"/><stop offset="1" stop-color="#50208A"/></radialGradient><radialGradient id="dgf" cx="0.42" cy="0.35" r="0.65"><stop offset="0" stop-color="#D8EEC0"/><stop offset="0.55" stop-color="#A0C880"/><stop offset="1" stop-color="#709858"/></radialGradient></defs><text x="922" y="1289.8" font-family="'DejaVu Sans Condensed','DejaVu Sans',sans-serif" font-size="15.5" font-weight="bold" fill="#111" text-anchor="middle" textLength="476" lengthAdjust="spacing">Dates de franchissement du DOE à Portet (1960-2020)</text><rect x="672.5" y="1300.5" width="510" height="20.5" fill="#fff" stroke="#000" stroke-width="1.2"/><line x1="672.5" x2="1182.5" y1="1308" y2="1308" stroke="#000" stroke-width="1.2"/><text x="926.8" y="1319.2" font-family="'DejaVu Sans Condensed','DejaVu Sans',sans-serif" font-size="13" font-weight="bold" fill="#3366E0" text-anchor="middle" textLength="242.5" lengthAdjust="spacing">Années sans franchissement du DOE</text>
<line x1="672.5" x2="1182.5" y1="1340.8" y2="1340.8" stroke="#1a1a1a" stroke-width="1" stroke-dasharray="3.2 1.8 1.6 1.8"/><line x1="668" x2="672.5" y1="1340.8" y2="1340.8" stroke="#000" stroke-width="1"/><text transform="translate(658.2,1340.8) rotate(-90)" font-family="'DejaVu Sans Condensed','DejaVu Sans',sans-serif" font-size="12" fill="#111" text-anchor="middle" textLength="22.9" lengthAdjust="spacingAndGlyphs">déc.</text><line x1="672.5" x2="1182.5" y1="1383.2" y2="1383.2" stroke="#1a1a1a" stroke-width="1" stroke-dasharray="3.2 1.8 1.6 1.8"/><line x1="668" x2="672.5" y1="1383.2" y2="1383.2" stroke="#000" stroke-width="1"/><text transform="translate(658.2,1383.2) rotate(-90)" font-family="'DejaVu Sans Condensed','DejaVu Sans',sans-serif" font-size="12" fill="#111" text-anchor="middle" textLength="22.3" lengthAdjust="spacingAndGlyphs">nov.</text><line x1="672.5" x2="1182.5" y1="1425.5" y2="1425.5" stroke="#1a1a1a" stroke-width="1" stroke-dasharray="3.2 1.8 1.6 1.8"/><line x1="668" x2="672.5" y1="1425.5" y2="1425.5" stroke="#000" stroke-width="1"/><text transform="translate(658.2,1425.5) rotate(-90)" font-family="'DejaVu Sans Condensed','DejaVu Sans',sans-serif" font-size="12" fill="#111" text-anchor="middle" textLength="20.2" lengthAdjust="spacingAndGlyphs">oct.</text><line x1="672.5" x2="1182.5" y1="1468.3" y2="1468.3" stroke="#1a1a1a" stroke-width="1" stroke-dasharray="3.2 1.8 1.6 1.8"/><line x1="668" x2="672.5" y1="1468.3" y2="1468.3" stroke="#000" stroke-width="1"/><text transform="translate(658.2,1468.3) rotate(-90)" font-family="'DejaVu Sans Condensed','DejaVu Sans',sans-serif" font-size="12" fill="#111" text-anchor="middle" textLength="26.8" lengthAdjust="spacingAndGlyphs">sept.</text><line x1="672.5" x2="1182.5" y1="1511.3" y2="1511.3" stroke="#1a1a1a" stroke-width="1" stroke-dasharray="3.2 1.8 1.6 1.8"/><line x1="668" x2="672.5" y1="1511.3" y2="1511.3" stroke="#000" stroke-width="1"/><text transform="translate(658.2,1511.3) rotate(-90)" font-family="'DejaVu Sans Condensed','DejaVu Sans',sans-serif" font-size="12" fill="#111" text-anchor="middle" textLength="24.3" lengthAdjust="spacingAndGlyphs">août</text><line x1="672.5" x2="1182.5" y1="1554.3" y2="1554.3" stroke="#1a1a1a" stroke-width="1" stroke-dasharray="3.2 1.8 1.6 1.8"/><line x1="668" x2="672.5" y1="1554.3" y2="1554.3" stroke="#000" stroke-width="1"/><text transform="translate(658.2,1554.3) rotate(-90)" font-family="'DejaVu Sans Condensed','DejaVu Sans',sans-serif" font-size="12" fill="#111" text-anchor="middle" textLength="19.3" lengthAdjust="spacingAndGlyphs">juil.</text><line x1="668" x2="672.5" y1="1597" y2="1597" stroke="#000" stroke-width="1"/><text transform="translate(658.2,1597) rotate(-90)" font-family="'DejaVu Sans Condensed','DejaVu Sans',sans-serif" font-size="12" fill="#111" text-anchor="middle" textLength="19.7" lengthAdjust="spacingAndGlyphs">juin</text><line x1="672.5" x2="672.5" y1="1321" y2="1597.5" stroke="#000" stroke-width="1.3"/><line x1="1182.5" x2="1182.5" y1="1321" y2="1597.5" stroke="#000" stroke-width="1.3"/><line x1="672" x2="1183" y1="1597" y2="1597" stroke="#000" stroke-width="1.3"/><path d="M672.5 1597v4M706.0 1597v4M739.5 1597v4M773.0 1597v4M806.5 1597v4M840.0 1597v4M873.4 1597v4M906.9 1597v4M940.4 1597v4M973.9 1597v4M1007.4 1597v4M1040.9 1597v4M1074.4 1597v4M1107.9 1597v4M1141.4 1597v4M1174.8 1597v4" stroke="#000" stroke-width="1"/><text x="676.0" y="1615.5" font-family="'DejaVu Sans Condensed','DejaVu Sans',sans-serif" font-size="13" font-weight="normal" fill="#111" text-anchor="middle"  textLength="29.8" lengthAdjust="spacingAndGlyphs">1960</text>
<text x="717.9" y="1615.5" font-family="'DejaVu Sans Condensed','DejaVu Sans',sans-serif" font-size="13" font-weight="normal" fill="#111" text-anchor="middle"  textLength="29.8" lengthAdjust="spacingAndGlyphs">1965</text>
<text x="759.7" y="1615.5" font-family="'DejaVu Sans Condensed','DejaVu Sans',sans-serif" font-size="13" font-weight="normal" fill="#111" text-anchor="middle"  textLength="29.8" lengthAdjust="spacingAndGlyphs">1970</text>
<text x="801.6" y="1615.5" font-family="'DejaVu Sans Condensed','DejaVu Sans',sans-serif" font-size="13" font-weight="normal" fill="#111" text-anchor="middle"  textLength="29.8" lengthAdjust="spacingAndGlyphs">1975</text>
<text x="843.4" y="1615.5" font-family="'DejaVu Sans Condensed','DejaVu Sans',sans-serif" font-size="13" font-weight="normal" fill="#111" text-anchor="middle"  textLength="29.8" lengthAdjust="spacingAndGlyphs">1980</text>
<text x="885.3" y="1615.5" font-family="'DejaVu Sans Condensed','DejaVu Sans',sans-serif" font-size="13" font-weight="normal" fill="#111" text-anchor="middle"  textLength="29.8" lengthAdjust="spacingAndGlyphs">1985</text>
<text x="927.2" y="1615.5" font-family="'DejaVu Sans Condensed','DejaVu Sans',sans-serif" font-size="13" font-weight="normal" fill="#111" text-anchor="middle"  textLength="29.8" lengthAdjust="spacingAndGlyphs">1990</text>
<text x="969.0" y="1615.5" font-family="'DejaVu Sans Condensed','DejaVu Sans',sans-serif" font-size="13" font-weight="normal" fill="#111" text-anchor="middle"  textLength="29.8" lengthAdjust="spacingAndGlyphs">1995</text>
<text x="1010.9" y="1615.5" font-family="'DejaVu Sans Condensed','DejaVu Sans',sans-serif" font-size="13" font-weight="normal" fill="#111" text-anchor="middle"  textLength="29.8" lengthAdjust="spacingAndGlyphs">2000</text>
<text x="1052.7" y="1615.5" font-family="'DejaVu Sans Condensed','DejaVu Sans',sans-serif" font-size="13" font-weight="normal" fill="#111" text-anchor="middle"  textLength="29.8" lengthAdjust="spacingAndGlyphs">2005</text>
<text x="1094.6" y="1615.5" font-family="'DejaVu Sans Condensed','DejaVu Sans',sans-serif" font-size="13" font-weight="normal" fill="#111" text-anchor="middle"  textLength="29.8" lengthAdjust="spacingAndGlyphs">2010</text>
<text x="1136.5" y="1615.5" font-family="'DejaVu Sans Condensed','DejaVu Sans',sans-serif" font-size="13" font-weight="normal" fill="#111" text-anchor="middle"  textLength="29.8" lengthAdjust="spacingAndGlyphs">2015</text>
<text x="1178.3" y="1615.5" font-family="'DejaVu Sans Condensed','DejaVu Sans',sans-serif" font-size="13" font-weight="normal" fill="#111" text-anchor="middle"  textLength="29.8" lengthAdjust="spacingAndGlyphs">2020</text>
<circle cx="676.0" cy="1467.2" r="5.9" fill="url(#dgg)" stroke="#1A1A66" stroke-width="0.9" stroke-opacity="0.85"/><circle cx="684.4" cy="1468.4" r="5.9" fill="url(#dgg)" stroke="#1A1A66" stroke-width="0.9" stroke-opacity="0.85"/><circle cx="692.7" cy="1511.5" r="5.9" fill="url(#dgg)" stroke="#1A1A66" stroke-width="0.9" stroke-opacity="0.85"/><circle cx="701.1" cy="1341" r="5.9" fill="url(#dgb)" stroke="#1A1A66" stroke-width="0.9" stroke-opacity="0.85"/><circle cx="709.5" cy="1518.7" r="5.9" fill="url(#dgg)" stroke="#1A1A66" stroke-width="0.9" stroke-opacity="0.85"/><circle cx="717.9" cy="1501.8" r="5.9" fill="url(#dgg)" stroke="#1A1A66" stroke-width="0.9" stroke-opacity="0.85"/><circle cx="726.2" cy="1483.7" r="5.9" fill="url(#dgg)" stroke="#1A1A66" stroke-width="0.9" stroke-opacity="0.85"/><circle cx="734.6" cy="1491" r="5.9" fill="url(#dgg)" stroke="#1A1A66" stroke-width="0.9" stroke-opacity="0.85"/><circle cx="743.0" cy="1400.2" r="5.9" fill="url(#dgg)" stroke="#1A1A66" stroke-width="0.9" stroke-opacity="0.85"/><circle cx="751.3" cy="1371.3" r="5.9" fill="url(#dgg)" stroke="#1A1A66" stroke-width="0.9" stroke-opacity="0.85"/><circle cx="759.7" cy="1478" r="5.9" fill="url(#dgg)" stroke="#1A1A66" stroke-width="0.9" stroke-opacity="0.85"/><circle cx="768.1" cy="1481" r="5.9" fill="url(#dgg)" stroke="#1A1A66" stroke-width="0.9" stroke-opacity="0.85"/><circle cx="776.5" cy="1341" r="5.9" fill="url(#dgb)" stroke="#1A1A66" stroke-width="0.9" stroke-opacity="0.85"/><circle cx="784.8" cy="1465.6" r="5.9" fill="url(#dgg)" stroke="#1A1A66" stroke-width="0.9" stroke-opacity="0.85"/><circle cx="793.2" cy="1495" r="5.9" fill="url(#dgg)" stroke="#1A1A66" stroke-width="0.9" stroke-opacity="0.85"/><circle cx="801.6" cy="1341" r="5.9" fill="url(#dgb)" stroke="#1A1A66" stroke-width="0.9" stroke-opacity="0.85"/><circle cx="810.0" cy="1519.8" r="5.9" fill="url(#dgg)" stroke="#1A1A66" stroke-width="0.9" stroke-opacity="0.85"/><circle cx="818.3" cy="1433.6" r="5.9" fill="url(#dgg)" stroke="#1A1A66" stroke-width="0.9" stroke-opacity="0.85"/><circle cx="826.7" cy="1444.4" r="5.9" fill="url(#dgg)" stroke="#1A1A66" stroke-width="0.9" stroke-opacity="0.85"/><circle cx="835.1" cy="1341" r="5.9" fill="url(#dgb)" stroke="#1A1A66" stroke-width="0.9" stroke-opacity="0.85"/><circle cx="843.4" cy="1429.5" r="5.9" fill="url(#dgg)" stroke="#1A1A66" stroke-width="0.9" stroke-opacity="0.85"/><circle cx="851.8" cy="1470.8" r="5.9" fill="url(#dgg)" stroke="#1A1A66" stroke-width="0.9" stroke-opacity="0.85"/><circle cx="860.2" cy="1517.1" r="5.9" fill="url(#dgg)" stroke="#1A1A66" stroke-width="0.9" stroke-opacity="0.85"/><circle cx="868.6" cy="1512.6" r="5.9" fill="url(#dgg)" stroke="#1A1A66" stroke-width="0.9" stroke-opacity="0.85"/><circle cx="876.9" cy="1513.7" r="5.9" fill="url(#dgg)" stroke="#1A1A66" stroke-width="0.9" stroke-opacity="0.85"/><circle cx="885.3" cy="1480.8" r="5.9" fill="url(#dgg)" stroke="#1A1A66" stroke-width="0.9" stroke-opacity="0.85"/><circle cx="893.7" cy="1525" r="5.9" fill="url(#dgg)" stroke="#1A1A66" stroke-width="0.9" stroke-opacity="0.85"/><circle cx="902.0" cy="1483.5" r="5.9" fill="url(#dgg)" stroke="#1A1A66" stroke-width="0.9" stroke-opacity="0.85"/><circle cx="910.4" cy="1476.5" r="5.9" fill="url(#dgg)" stroke="#1A1A66" stroke-width="0.9" stroke-opacity="0.85"/><circle cx="918.8" cy="1554.4" r="5.9" fill="url(#dgr)" stroke="#1A1A66" stroke-width="0.9" stroke-opacity="0.85"/><circle cx="927.2" cy="1535" r="5.9" fill="url(#dgo)" stroke="#1A1A66" stroke-width="0.9" stroke-opacity="0.85"/><circle cx="935.5" cy="1517.1" r="5.9" fill="url(#dgg)" stroke="#1A1A66" stroke-width="0.9" stroke-opacity="0.85"/><circle cx="943.9" cy="1479.4" r="5.9" fill="url(#dgg)" stroke="#1A1A66" stroke-width="0.9" stroke-opacity="0.85"/><circle cx="952.3" cy="1519.8" r="5.9" fill="url(#dgg)" stroke="#1A1A66" stroke-width="0.9" stroke-opacity="0.85"/><circle cx="960.6" cy="1503.4" r="5.9" fill="url(#dgg)" stroke="#1A1A66" stroke-width="0.9" stroke-opacity="0.85"/><circle cx="969.0" cy="1490.7" r="5.9" fill="url(#dgg)" stroke="#1A1A66" stroke-width="0.9" stroke-opacity="0.85"/><circle cx="977.4" cy="1486.4" r="5.9" fill="url(#dgg)" stroke="#1A1A66" stroke-width="0.9" stroke-opacity="0.85"/><circle cx="985.8" cy="1510.1" r="5.9" fill="url(#dgg)" stroke="#1A1A66" stroke-width="0.9" stroke-opacity="0.85"/><circle cx="994.1" cy="1532.3" r="5.9" fill="url(#dgf)" stroke="#1A1A66" stroke-width="0.9" stroke-opacity="0.85"/><circle cx="1002.5" cy="1493.6" r="5.9" fill="url(#dgg)" stroke="#1A1A66" stroke-width="0.9" stroke-opacity="0.85"/><circle cx="1010.9" cy="1341" r="5.9" fill="url(#dgb)" stroke="#1A1A66" stroke-width="0.9" stroke-opacity="0.85"/><circle cx="1019.3" cy="1504.5" r="5.9" fill="url(#dgg)" stroke="#1A1A66" stroke-width="0.9" stroke-opacity="0.85"/><circle cx="1027.6" cy="1341" r="5.9" fill="url(#dgb)" stroke="#1A1A66" stroke-width="0.9" stroke-opacity="0.85"/><circle cx="1036.0" cy="1528.2" r="5.9" fill="url(#dgg)" stroke="#1A1A66" stroke-width="0.9" stroke-opacity="0.85"/><circle cx="1044.4" cy="1511.7" r="5.9" fill="url(#dgg)" stroke="#1A1A66" stroke-width="0.9" stroke-opacity="0.85"/><circle cx="1052.7" cy="1526.6" r="5.9" fill="url(#dgg)" stroke="#1A1A66" stroke-width="0.9" stroke-opacity="0.85"/><circle cx="1061.1" cy="1550.3" r="5.9" fill="url(#dgo)" stroke="#1A1A66" stroke-width="0.9" stroke-opacity="0.85"/><circle cx="1069.5" cy="1533.4" r="5.9" fill="url(#dgl)" stroke="#1A1A66" stroke-width="0.9" stroke-opacity="0.85"/><circle cx="1077.9" cy="1486.6" r="5.9" fill="url(#dgg)" stroke="#1A1A66" stroke-width="0.9" stroke-opacity="0.85"/><circle cx="1086.2" cy="1472.4" r="5.9" fill="url(#dgg)" stroke="#1A1A66" stroke-width="0.9" stroke-opacity="0.85"/><circle cx="1094.6" cy="1480.8" r="5.9" fill="url(#dgg)" stroke="#1A1A66" stroke-width="0.9" stroke-opacity="0.85"/><circle cx="1103.0" cy="1469.5" r="5.9" fill="url(#dgg)" stroke="#1A1A66" stroke-width="0.9" stroke-opacity="0.85"/><circle cx="1111.3" cy="1533.4" r="5.9" fill="url(#dgl)" stroke="#1A1A66" stroke-width="0.9" stroke-opacity="0.85"/><circle cx="1119.7" cy="1468.1" r="5.9" fill="url(#dgg)" stroke="#1A1A66" stroke-width="0.9" stroke-opacity="0.85"/><circle cx="1128.1" cy="1458.4" r="5.9" fill="url(#dgg)" stroke="#1A1A66" stroke-width="0.9" stroke-opacity="0.85"/><circle cx="1136.5" cy="1516.9" r="5.9" fill="url(#dgg)" stroke="#1A1A66" stroke-width="0.9" stroke-opacity="0.85"/><circle cx="1144.8" cy="1507.2" r="5.9" fill="url(#dgg)" stroke="#1A1A66" stroke-width="0.9" stroke-opacity="0.85"/><circle cx="1153.2" cy="1533.4" r="5.9" fill="url(#dgl)" stroke="#1A1A66" stroke-width="0.9" stroke-opacity="0.85"/><circle cx="1161.6" cy="1467.2" r="5.9" fill="url(#dgg)" stroke="#1A1A66" stroke-width="0.9" stroke-opacity="0.85"/><circle cx="1169.9" cy="1510.4" r="5.9" fill="url(#dgg)" stroke="#1A1A66" stroke-width="0.9" stroke-opacity="0.85"/><circle cx="1178.3" cy="1496.1" r="5.9" fill="url(#dgp)" stroke="#1A1A66" stroke-width="0.9" stroke-opacity="0.85"/><text x="922.8" y="1571.3" font-family="'DejaVu Sans Condensed','DejaVu Sans',sans-serif" font-size="13" font-weight="normal" fill="#E00000" text-anchor="middle"  textLength="29.8" lengthAdjust="spacingAndGlyphs">1989</text>
<text x="922" y="1547" font-family="'DejaVu Sans Condensed','DejaVu Sans',sans-serif" font-size="13" font-weight="normal" fill="#E07A10" text-anchor="end"  textLength="29.8" lengthAdjust="spacingAndGlyphs">1990</text>
<text x="1073" y="1528.9" font-family="'DejaVu Sans Condensed','DejaVu Sans',sans-serif" font-size="13" font-weight="normal" fill="#E07A10" text-anchor="start"  textLength="29.8" lengthAdjust="spacingAndGlyphs">2007</text>
<text x="1070" y="1551.5" font-family="'DejaVu Sans Condensed','DejaVu Sans',sans-serif" font-size="13" font-weight="normal" fill="#E07A10" text-anchor="start"  textLength="29.8" lengthAdjust="spacingAndGlyphs">2006</text>
<text x="1109.8" y="1552.6" font-family="'DejaVu Sans Condensed','DejaVu Sans',sans-serif" font-size="13" font-weight="normal" fill="#E07A10" text-anchor="start"  textLength="29.8" lengthAdjust="spacingAndGlyphs">2012</text>
<text x="1148" y="1552.6" font-family="'DejaVu Sans Condensed','DejaVu Sans',sans-serif" font-size="13" font-weight="normal" fill="#E07A10" text-anchor="start"  textLength="29.8" lengthAdjust="spacingAndGlyphs">2017</text>
<text x="1143" y="1484.4" font-family="'DejaVu Sans Condensed','DejaVu Sans',sans-serif" font-size="13" font-weight="bold" fill="#7030A0" text-anchor="middle"  textLength="32.6" lengthAdjust="spacingAndGlyphs">2020</text>
<text x="1168.5" y="1498.4" font-family="'DejaVu Sans Condensed','DejaVu Sans',sans-serif" font-size="13" font-weight="bold" fill="#7030A0" text-anchor="end"  textLength="51.0" lengthAdjust="spacingAndGlyphs">12-août</text>
<text transform="translate(1234.3,1393.3) rotate(-90)" font-family="'DejaVu Sans Condensed','DejaVu Sans',sans-serif" font-size="14.3" fill="#222" text-anchor="middle" textLength="120.4" lengthAdjust="spacingAndGlyphs">eaucea@eaucea.fr</text><text transform="translate(1234.3,1579.5) rotate(-90)" font-family="'DejaVu Sans Condensed','DejaVu Sans',sans-serif" font-size="14.3" fill="#222" text-anchor="middle" textLength="186.9" lengthAdjust="spacingAndGlyphs">Bulletin élaboré avec Eaucéa</text><text x="571.5" y="1708" font-family="'DejaVu Sans Condensed','DejaVu Sans',sans-serif" font-size="14.4" font-weight="normal" fill="#111" text-anchor="middle" textLength="321.5" lengthAdjust="spacingAndGlyphs">Sméag, 61 rue Pierre Cazeneuve, 31200 Toulouse</text>
<text x="571.5" y="1732" font-family="'DejaVu Sans Condensed','DejaVu Sans',sans-serif" font-size="14.4" font-weight="normal" fill="#111" text-anchor="middle" textLength="509.5" lengthAdjust="spacingAndGlyphs" xml:space="preserve">tel 05 62 72 76 00 - fax 05 62 72 27 84  - www.smeag.fr - www.lagaronne.com</text>

</svg>
<div class="at" style="top:1241.26px">Une entrée en étiage imminente ?</div>
<div class="al" style="top:1295.05px">La semaine qui s’achève est marquée par des précipitations</div><div class="al" style="top:1320.46px">évitant largement le sud du bassin, l’Ariège et les Pyrénées</div><div class="al" style="top:1345.87px">(altitude et piémont). Les quelques pluies de plaine ont été</div><div class="al" style="top:1371.28px">absorbées par des sols secs et la végétation. Elles ont eu pour effet</div><div class="al" style="top:1396.69px">de seulement freiner le tarissement du fleuve. Avec le temps sec</div><div class="al" style="top:1422.10px">prévu en semaine prochaine, l’accélération de l’irrigation et la</div><div class="al" style="top:1447.51px">baisse programmée de l’activité hydroélectrique, le</div><div class="al" style="top:1472.92px">franchissement du DOE à Portet risque d’intervenir autour de la</div><div class="al" style="top:1498.33px">mi-juillet donc de façon très précoce. L’illustration rappelle les</div><div class="al" style="top:1523.74px">périodes de franchissement du DOE à Toulouse. Peu d’années sont</div><div class="al" style="top:1549.15px">concernées par un franchissement aussi précoce. Classiquement</div><div class="al" style="top:1574.56px">c’est plutôt la Garonne agenaise et atlantique qui entre en premier</div><div class="al" style="top:1599.97px">en étiage. Cette année les apports du Tarn et du Lot changent la</div><div class="al last" style="top:1625.38px">donne.</div>
</body></html>
